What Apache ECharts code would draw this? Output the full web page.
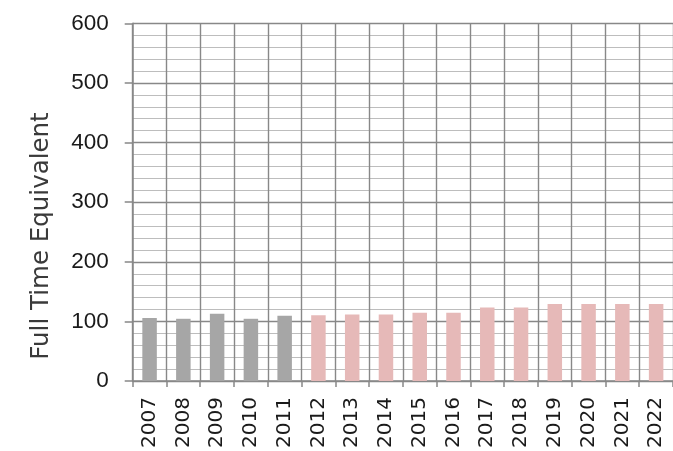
<!DOCTYPE html>
<html>
<head>
<meta charset="utf-8">
<script src="https://cdn.jsdelivr.net/npm/echarts@6/dist/echarts.min.js"></script>
<style>html,body{margin:0;padding:0;background:#fff}#c{width:673px;height:451px}</style>
</head>
<body>
<div id="c"></div>
<script>
var years = ['2007','2008','2009','2010','2011','2012','2013','2014','2015','2016','2017','2018','2019','2020','2021','2022'];
var actualYears = ['2007','2008','2009','2010','2011'];
var actualValues = [106, 104.5, 113, 104.5, 109.5];
var projectedYears = ['2012','2013','2014','2015','2016','2017','2018','2019','2020','2021','2022'];
var projectedValues = [110.5, 111.5, 111.5, 114.5, 114.5, 123.5, 123.5, 129.5, 129.5, 129.5, 129.5];
var yTicks = [0, 100, 200, 300, 400, 500, 600];
var yAxisName = 'Full Time Equivalent';

function align(ys, vs) {
  return years.map(function (y) { var i = ys.indexOf(y); return i >= 0 ? vs[i] : null; });
}

var chart = echarts.init(document.getElementById('c'), null, {renderer: 'canvas'});
chart.setOption({
  animation: false,
  backgroundColor: '#ffffff',
  grid: {left: 132.7, right: -2, top: 23.3, bottom: 69.3, containLabel: false},
  graphic: [{
    type: 'text',
    x: 42, y: 236,
    rotation: Math.PI / 2,
    style: {
      text: yAxisName,
      fontSize: 24.5,
      fontFamily: 'DejaVu Sans, sans-serif',
      fill: '#3a3a3a',
      align: 'center',
      verticalAlign: 'middle'
    }
  }],
  xAxis: {
    type: 'category',
    data: years,
    boundaryGap: true,
    axisLine: {show: true, lineStyle: {color: '#888888', width: 1.5}},
    axisTick: {show: true, length: 6, lineStyle: {color: '#888888', width: 1.5}},
    splitLine: {show: true, lineStyle: {color: '#888888', width: 1.4}},
    axisLabel: {rotate: 90, interval: 0, fontSize: 20, margin: 16, color: '#1a1a1a', fontFamily: 'DejaVu Sans, sans-serif'}
  },
  yAxis: {
    type: 'value',
    min: yTicks[0], max: yTicks[yTicks.length - 1], interval: yTicks[1] - yTicks[0],
    axisLine: {show: true, lineStyle: {color: '#888888', width: 1.5}},
    axisTick: {show: true, length: 8, lineStyle: {color: '#888888', width: 1.5}},
    splitLine: {show: true, lineStyle: {color: '#888888', width: 1.4}},
    minorTick: {show: false, splitNumber: 5},
    minorSplitLine: {show: true, lineStyle: {color: '#bdbdbd', width: 1.2}},
    axisLabel: {fontSize: 22.5, margin: 24, color: '#1a1a1a', fontFamily: 'Liberation Sans, Arial, sans-serif'}
  },
  series: [
    {type: 'bar', data: align(actualYears, actualValues), barWidth: 14.5, barGap: '-100%', itemStyle: {color: '#a6a6a6'}},
    {type: 'bar', data: align(projectedYears, projectedValues), barWidth: 14.5, barGap: '-100%', itemStyle: {color: '#e6b9b8'}}
  ]
});
</script>
</body>
</html>
